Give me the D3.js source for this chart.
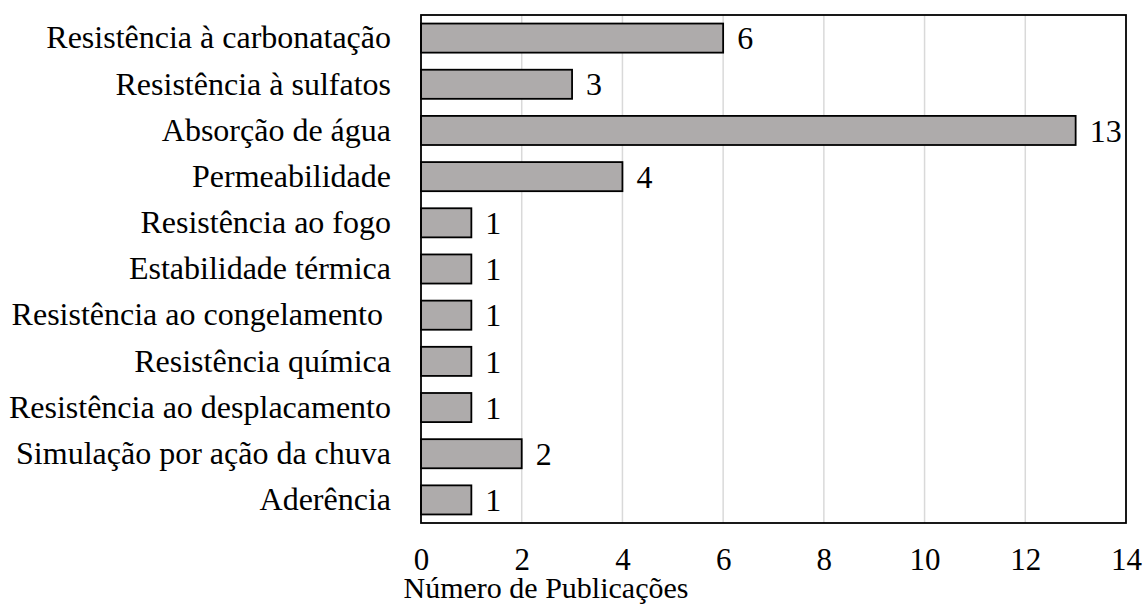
<!DOCTYPE html>
<html>
<head>
<meta charset="utf-8">
<script src="https://cdn.jsdelivr.net/npm/d3@7"></script>
<style>
  body { margin: 0; background: #fff; }
  svg text { font-family: "Liberation Serif", "Times New Roman", serif; fill: #000; }
</style>
</head>
<body>
<div id="canvas"></div>
<script>
// categorias e valores (numero de publicacoes)
var categorias = [
  'Resistência à carbonatação',
  'Resistência à sulfatos',
  'Absorção de água',
  'Permeabilidade',
  'Resistência ao fogo',
  'Estabilidade térmica',
  'Resistência ao congelamento ',
  'Resistência química',
  'Resistência ao desplacamento',
  'Simulação por ação da chuva',
  'Aderência'
];
var valores = [6, 3, 13, 4, 1, 1, 1, 1, 1, 2, 1];
var ticksX = [0, 2, 4, 6, 8, 10, 12, 14];
var tituloX = 'Número de Publicações';

var W = 1143, H = 604;
var m = {t:15, r:17, b:81, l:421},
    w = W - m.l - m.r,
    h = H - m.t - m.b;

var svg = d3.select('#canvas')
    .append('svg')
    .attr('width', W)
    .attr('height', H);

var plot = svg.append('g')
    .attr('transform', 'translate(' + m.l + ',' + m.t + ')');

var x = d3.scaleLinear().domain([0, 14]).range([0, w]);
var y = d3.scaleBand().domain(categorias).range([0, h]).paddingInner(0.37).paddingOuter(0.185);

// linhas de grade
plot.selectAll('line.grid')
    .data(ticksX.slice(1, -1))
    .enter()
    .append('line').attr('class', 'grid')
    .attr('x1', function(d){ return x(d); })
    .attr('x2', function(d){ return x(d); })
    .attr('y1', 0)
    .attr('y2', h)
    .style('stroke', '#d9d9d9')
    .style('stroke-width', 1.5);

// barras
plot.selectAll('rect.bar')
    .data(valores)
    .enter()
    .append('rect').attr('class', 'bar')
    .attr('x', 0)
    .attr('y', function(d, i){ return y(categorias[i]); })
    .attr('width', function(d){ return x(d); })
    .attr('height', y.bandwidth())
    .style('fill', '#aeabab')
    .style('stroke', '#000')
    .style('stroke-width', 1.8);

// rotulos de valor
plot.selectAll('text.val')
    .data(valores)
    .enter()
    .append('text').attr('class', 'val')
    .attr('x', function(d){ return x(d) + 14; })
    .attr('y', function(d, i){ return y(categorias[i]) + y.bandwidth() / 2; })
    .attr('dy', '0.35em')
    .style('font-size', '32px')
    .text(function(d){ return d; });

// moldura
plot.append('rect')
    .attr('x', 0).attr('y', 0)
    .attr('width', w).attr('height', h)
    .style('fill', 'none')
    .style('stroke', '#000')
    .style('stroke-width', 1.8);

// eixo y (rotulos das categorias)
var yAxis = d3.axisLeft(y).tickSize(0).tickPadding(30);
var gy = plot.append('g').call(yAxis);
gy.select('.domain').remove();
gy.selectAll('text')
    .style('font-size', '32px')
    .style('font-family', '"Liberation Serif", serif')
    .style('white-space', 'pre')
    .attr('xml:space', 'preserve');

// eixo x
var xAxis = d3.axisBottom(x).tickValues(ticksX).tickSize(0).tickPadding(25);
var gx = plot.append('g').attr('transform', 'translate(0,' + h + ')').call(xAxis);
gx.select('.domain').remove();
gx.selectAll('text')
    .style('font-size', '31px')
    .style('font-family', '"Liberation Serif", serif');

// titulo do eixo x
svg.append('text')
    .attr('x', 546)
    .attr('y', 598)
    .attr('text-anchor', 'middle')
    .style('font-size', '30px')
    .text(tituloX);
</script>
</body>
</html>
